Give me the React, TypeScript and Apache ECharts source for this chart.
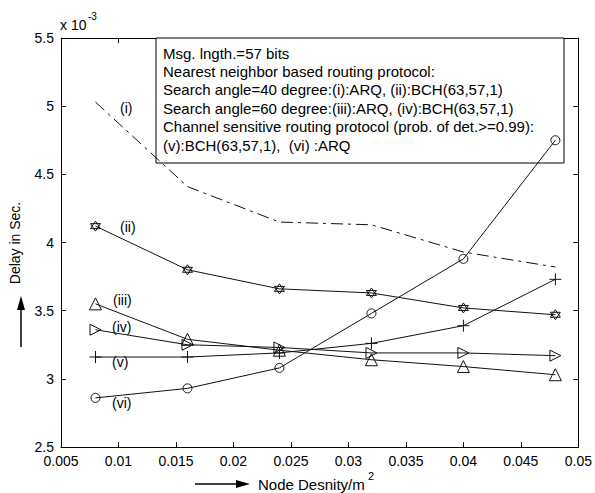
import React, { useEffect, useRef } from "react";
import * as echarts from "echarts";

const xValues = [0.008, 0.016, 0.024, 0.032, 0.04, 0.048];
const seriesI = [5.03, 4.41, 4.15, 4.13, 3.93, 3.82];
const seriesII = [4.12, 3.8, 3.66, 3.63, 3.52, 3.47];
const seriesIII = [3.55, 3.29, 3.21, 3.14, 3.09, 3.03];
const seriesIV = [3.36, 3.25, 3.23, 3.19, 3.19, 3.17];
const seriesV = [3.16, 3.16, 3.19, 3.26, 3.39, 3.73];
const seriesVI = [2.86, 2.93, 3.08, 3.48, 3.88, 4.75];

const boxLines = [
  "Msg. lngth.=57 bits",
  "Nearest neighbor based routing protocol:",
  "Search angle=40 degree:(i):ARQ, (ii):BCH(63,57,1)",
  "Search angle=60 degree:(iii):ARQ, (iv):BCH(63,57,1)",
  "Channel sensitive routing protocol (prob. of det.>=0.99):",
  "(v):BCH(63,57,1),  (vi) :ARQ",
];

const curveLabels = [
  { text: "(i)", x: 120, y: 108 },
  { text: "(ii)", x: 120, y: 227 },
  { text: "(iii)", x: 113, y: 300 },
  { text: "(iv)", x: 112, y: 327 },
  { text: "(v)", x: 112, y: 362 },
  { text: "(vi)", x: 112, y: 403 },
];

const FONT = "Liberation Sans, Arial, Helvetica, sans-serif";

const hexagram =
  "path://M5,0 L9.33,7.5 L0.67,7.5 Z M5,10 L0.67,2.5 L9.33,2.5 Z";
const plus = "path://M0,5 L10,5 M5,0 L5,10";
const triRight = "path://M0,0 L10,5 L0,10 Z";

function pairs(ys: number[]) {
  return xValues.map((x, i) => [x, ys[i]]);
}

export default function App() {
  const ref = useRef<HTMLDivElement>(null);
  useEffect(() => {
    if (!ref.current) return;
    const chart = echarts.init(ref.current, undefined, { renderer: "svg" });
    const baseSeries = (name: string, data: number[], symbol: string, size: number, dash?: any) => ({
      name,
      type: "line",
      data: pairs(data),
      symbol,
      symbolSize: size,
      showSymbol: symbol !== "none",
      lineStyle: { color: "#111", width: 1, type: dash || "solid" },
      itemStyle: { color: "rgba(0,0,0,0)", borderColor: "#111", borderWidth: 1 },
      emphasis: { disabled: true },
      z: 5,
    });
    const axisCommon = {
      axisLine: { show: true, lineStyle: { color: "#000", width: 1 } },
      axisTick: { show: true, inside: true, length: 5, lineStyle: { color: "#000" } },
      splitLine: { show: false },
    };
    const graphics: any[] = [
      {
        type: "rect",
        shape: { x: 156, y: 38, width: 408, height: 125 },
        style: { fill: "#fff", stroke: "#000", lineWidth: 1 },
        z: 1,
      },
      ...boxLines.map((t, i) => ({
        type: "text",
        x: 163,
        y: 53 + i * 18.4,
        style: {
          text: t,
          font: `15px ${FONT}`,
          fill: "#000",
          textVerticalAlign: "middle",
        },
        z: 2,
      })),
      ...curveLabels.map((l) => ({
        type: "text",
        x: l.x,
        y: l.y,
        style: { text: l.text, font: `14px ${FONT}`, fill: "#000", textVerticalAlign: "middle" },
        z: 2,
      })),
      {
        type: "text",
        x: 60,
        y: 25,
        style: { text: "x 10", font: `14px ${FONT}`, fill: "#000", textVerticalAlign: "middle" },
      },
      {
        type: "text",
        x: 88,
        y: 16,
        style: { text: "-3", font: `10px ${FONT}`, fill: "#000", textVerticalAlign: "middle" },
      },
      {
        type: "text",
        x: 15,
        y: 243,
        rotation: Math.PI / 2,
        style: {
          text: "Delay in Sec.",
          font: `14px ${FONT}`,
          fill: "#000",
          textAlign: "center",
          textVerticalAlign: "middle",
        },
      },
      {
        type: "line",
        shape: { x1: 21, y1: 347, x2: 21, y2: 305 },
        style: { stroke: "#000", lineWidth: 1.5 },
      },
      {
        type: "polygon",
        shape: { points: [[21, 296], [17, 310], [25, 310]] },
        style: { fill: "#000" },
      },
      {
        type: "line",
        shape: { x1: 195, y1: 484, x2: 240, y2: 484 },
        style: { stroke: "#000", lineWidth: 1.5 },
      },
      {
        type: "polygon",
        shape: { points: [[250, 484], [236, 480], [236, 488]] },
        style: { fill: "#000" },
      },
      {
        type: "text",
        x: 258,
        y: 484,
        style: {
          text: "Node Desnity/m",
          font: `15px ${FONT}`,
          fill: "#000",
          textVerticalAlign: "middle",
        },
      },
      {
        type: "text",
        x: 368,
        y: 476,
        style: { text: "2", font: `11px ${FONT}`, fill: "#000", textVerticalAlign: "middle" },
      },
    ];
    chart.setOption({
      animation: false,
      backgroundColor: "#fff",
      grid: { left: 61, top: 38, right: 14, bottom: 46, show: false },
      xAxis: [
        {
          type: "value",
          min: 0.005,
          max: 0.05,
          interval: 0.005,
          position: "bottom",
          ...axisCommon,
          axisLabel: {
            color: "#000",
            fontSize: 14,
            fontFamily: FONT,
            margin: 7,
            formatter: (v: number) => String(+v.toFixed(3)),
          },
        },
        {
          type: "value",
          min: 0.005,
          max: 0.05,
          interval: 0.005,
          position: "top",
          ...axisCommon,
          axisLabel: { show: false },
        },
      ],
      yAxis: [
        {
          type: "value",
          min: 2.5,
          max: 5.5,
          interval: 0.5,
          position: "left",
          ...axisCommon,
          axisLabel: {
            color: "#000",
            fontSize: 14,
            fontFamily: FONT,
            margin: 7,
            formatter: (v: number) => String(+v.toFixed(1)),
          },
        },
        {
          type: "value",
          min: 2.5,
          max: 5.5,
          interval: 0.5,
          position: "right",
          ...axisCommon,
          axisLabel: { show: false },
        },
      ],
      series: [
        baseSeries("(i)", seriesI, "none", 0, [12, 5, 3, 5]),
        baseSeries("(ii)", seriesII, hexagram, 10),
        baseSeries("(iii)", seriesIII, "triangle", 12),
        baseSeries("(iv)", seriesIV, triRight, 11),
        baseSeries("(v)", seriesV, plus, 12),
        baseSeries("(vi)", seriesVI, "circle", 9),
      ],
      graphic: graphics,
    });
    return () => chart.dispose();
  }, []);
  return (
    <div
      ref={ref}
      style={{ position: "absolute", left: 0, top: 0, width: 595, height: 493, background: "#fff" }}
    />
  );
}
